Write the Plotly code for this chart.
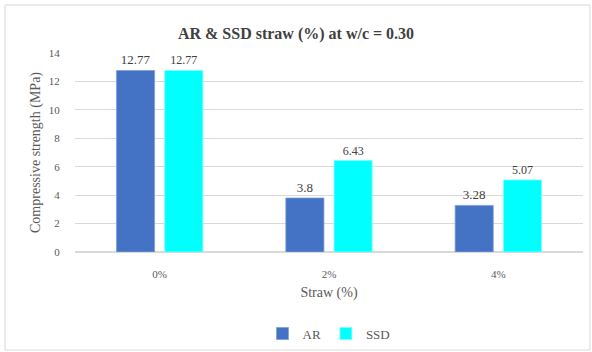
import plotly.graph_objects as go

categories = ["0%", "2%", "4%"]
ar_values = [12.77, 3.8, 3.28]
ssd_values = [12.77, 6.43, 5.07]
y_ticks = [0, 2, 4, 6, 8, 10, 12, 14]

serif = "Liberation Serif"

fig = go.Figure()
fig.add_trace(go.Bar(
    name="AR", x=categories, y=ar_values,
    marker=dict(color="#4472C4", line=dict(color="#7f9fd8", width=0.8)),
    text=[f"{v:g}" for v in ar_values], textposition="outside",
    textfont=dict(family=serif, size=13, color="#404040"), cliponaxis=False,
))
fig.add_trace(go.Bar(
    name="SSD", x=categories, y=ssd_values,
    marker=dict(color="#00FFFF", line=dict(color="#7fffff", width=0.8)),
    text=[f"{v:g}" for v in ssd_values], textposition="outside",
    textfont=dict(family=serif, size=12, color="#404040"), cliponaxis=False,
))

fig.update_layout(
    width=592, height=352,
    margin=dict(l=75, r=9, t=53, b=100, autoexpand=False),
    paper_bgcolor="white", plot_bgcolor="white",
    barmode="group", bargap=0.43, bargroupgap=0.21,
    font=dict(family=serif, color="#595959"),
    title=dict(text="<b>AR & SSD straw (%) at w/c = 0.30</b>",
               x=0.5, xanchor="center", y=1 - 33 / 352, yanchor="middle",
               font=dict(family=serif, size=16, color="#404040")),
    xaxis=dict(
        tickfont=dict(family=serif, size=11, color="#595959"),
        title=dict(text="Straw (%)", font=dict(family=serif, size=14, color="#595959"), standoff=8),
        showline=False, ticks="", ticklabelstandoff=14, automargin=False,
    ),
    yaxis=dict(
        range=[0, 14], tickvals=y_ticks,
        tickfont=dict(family=serif, size=11, color="#595959"),
        title=dict(text="Compressive strength (MPa)", font=dict(family=serif, size=14, color="#595959"), standoff=4),
        gridcolor="#d9d9d9", gridwidth=1, zeroline=True, zerolinecolor="#d9d9d9",
        ticks="outside", ticklen=12, tickcolor="rgba(0,0,0,0)", automargin=False,
    ),
    legend=dict(orientation="h", x=0.5, xanchor="center", y=-0.41, yanchor="middle",
                font=dict(family=serif, size=13, color="#595959")),
    showlegend=True,
)

# outer chart frame
fig.add_shape(type="rect", xref="paper", yref="paper",
              x0=-70 / 508, x1=1 + 7 / 508, y0=-98 / 199, y1=1 + 48 / 199,
              line=dict(color="#d9d9d9", width=1), fillcolor="rgba(0,0,0,0)", layer="below")

fig.write_html("out.html")
